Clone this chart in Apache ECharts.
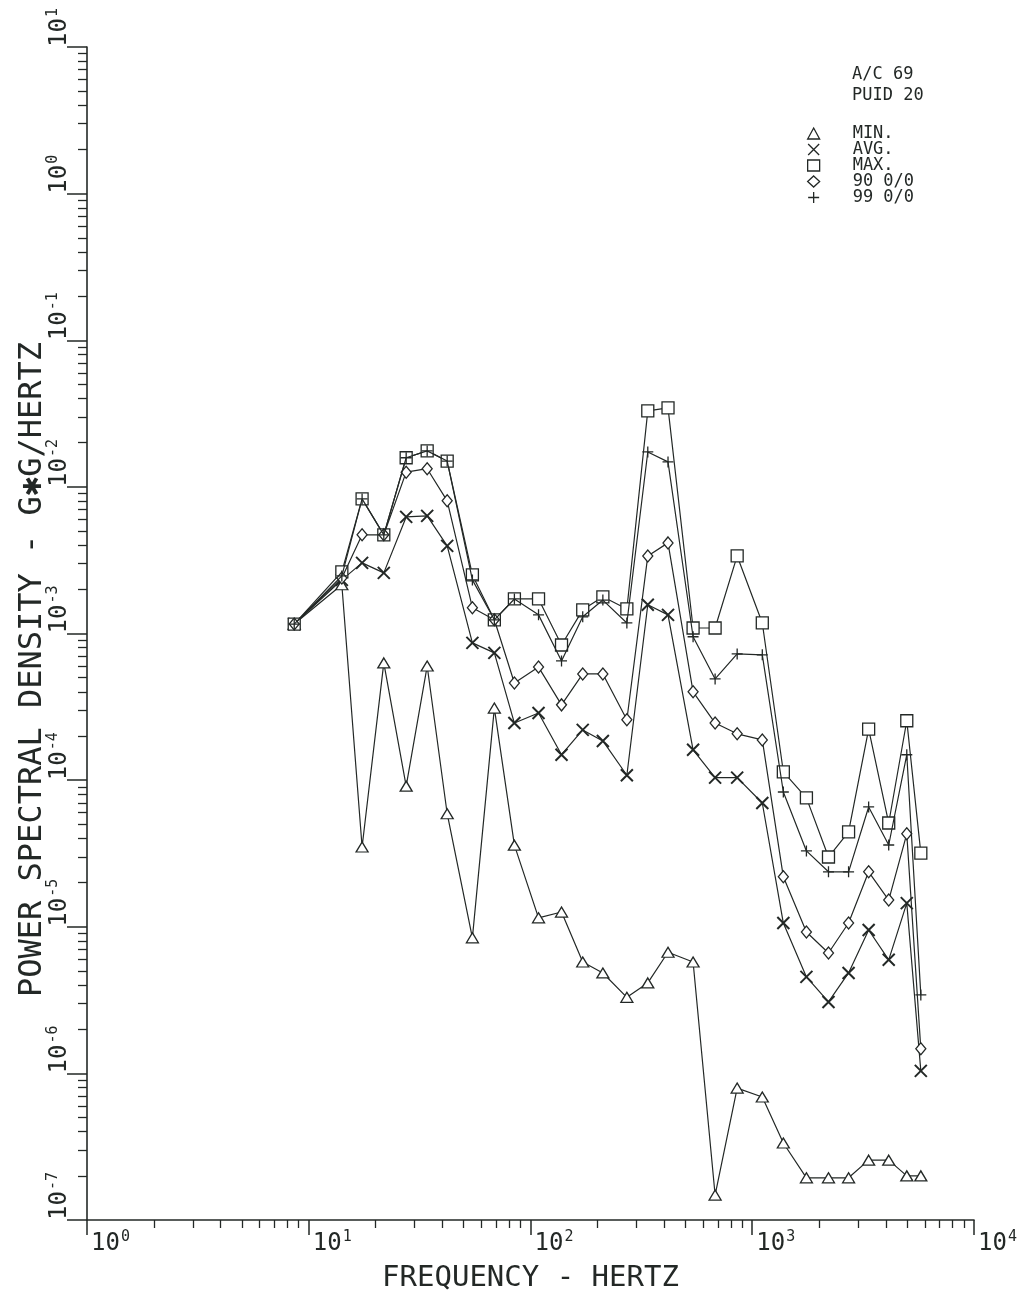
<!DOCTYPE html>
<html>
<head>
<meta charset="utf-8">
<script src="https://cdn.jsdelivr.net/npm/echarts@6/dist/echarts.min.js"></script>
<style>
  html, body { margin: 0; padding: 0; background: #ffffff; }
  #chart { width: 1023px; height: 1292px; }
</style>
</head>
<body>
<div id="chart"></div>
<script>
// Band frequencies (Hz) and power spectral density per statistic (g^2/Hz)
const frequencies = [8.6, 14.1, 17.4, 21.8, 27.5, 34.2, 42.1, 54.7, 68.7, 84.6,
  108.7, 138, 172, 212, 272, 338, 417, 541, 680, 855,
  1110, 1381, 1755, 2207, 2719, 3349, 4125, 4976, 5757];

const psdMin = [1.16e-3, 2.15e-3, 3.5e-5, 6.3e-4, 9.1e-5, 6.0e-4, 5.9e-5, 8.4e-6, 3.1e-4, 3.6e-5,
  1.15e-5, 1.26e-5, 5.75e-6, 4.84e-6, 3.3e-6, 4.14e-6, 6.7e-6, 5.75e-6, 1.48e-7, 7.94e-7,
  6.9e-7, 3.35e-7, 1.94e-7, 1.94e-7, 1.94e-7, 2.56e-7, 2.56e-7, 2.0e-7, 2.0e-7];

const psdAvg = [1.16e-3, 2.32e-3, 3.03e-3, 2.59e-3, 6.24e-3, 6.34e-3, 3.96e-3, 8.63e-4, 7.38e-4, 2.45e-4,
  2.87e-4, 1.49e-4, 2.2e-4, 1.85e-4, 1.08e-4, 1.57e-3, 1.34e-3, 1.61e-4, 1.04e-4, 1.04e-4,
  6.98e-5, 1.06e-5, 4.55e-6, 3.07e-6, 4.84e-6, 9.5e-6, 5.95e-6, 1.45e-5, 1.04e-6];

const psdMax = [1.16e-3, 2.63e-3, 8.28e-3, 4.71e-3, 1.58e-2, 1.76e-2, 1.50e-2, 2.51e-3, 1.24e-3, 1.72e-3,
  1.72e-3, 8.35e-4, 1.45e-3, 1.78e-3, 1.47e-3, 3.3e-2, 3.46e-2, 1.09e-3, 1.09e-3, 3.38e-3,
  1.18e-3, 1.14e-4, 7.57e-5, 2.99e-5, 4.44e-5, 2.23e-4, 5.1e-5, 2.54e-4, 3.18e-5];

const psd90 = [1.16e-3, 2.39e-3, 4.71e-3, 4.71e-3, 1.26e-2, 1.33e-2, 8.03e-3, 1.50e-3, 1.24e-3, 4.6e-4,
  5.9e-4, 3.26e-4, 5.3e-4, 5.3e-4, 2.58e-4, 3.38e-3, 4.15e-3, 4.0e-4, 2.45e-4, 2.07e-4,
  1.88e-4, 2.19e-5, 9.2e-6, 6.62e-6, 1.06e-5, 2.37e-5, 1.52e-5, 4.3e-5, 1.47e-6];

const psd99 = [1.16e-3, 2.47e-3, 8.28e-3, 4.71e-3, 1.58e-2, 1.76e-2, 1.50e-2, 2.32e-3, 1.24e-3, 1.72e-3,
  1.34e-3, 6.5e-4, 1.30e-3, 1.69e-3, 1.18e-3, 1.73e-2, 1.48e-2, 9.5e-4, 4.9e-4, 7.26e-4,
  7.15e-4, 8.3e-5, 3.29e-5, 2.37e-5, 2.37e-5, 6.56e-5, 3.61e-5, 1.49e-4, 3.43e-6];

// Axis decades and the in-between mantissas used for the short ticks
const xDecades = [1, 10, 100, 1000, 10000];
const yDecades = [1e-7, 1e-6, 1e-5, 1e-4, 1e-3, 1e-2, 1e-1, 1, 10];
const minorMantissas = [2, 3, 4, 5, 6, 7, 8, 9];

const seriesNames = ['MIN.', 'AVG.', 'MAX.', '90 0/0', '99 0/0'];
const headerText = ['A/C 69', 'PUID 20'];
const xTitle = 'FREQUENCY - HERTZ';
const yTitle = 'POWER SPECTRAL DENSITY - G\u2731G/HERTZ';

const INK = '#232826';
const FONT = '"DejaVu Sans Mono", "Liberation Mono", monospace';

function minorValues(decades) {
  const out = [];
  for (let i = 0; i < decades.length - 1; i++) {
    minorMantissas.forEach(m => out.push(decades[i] * m));
  }
  return out;
}

function powerLabel(v) {
  const e = Math.round(Math.log10(v));
  return '{b|10}{s|' + e + '}';
}

// "10" with a raised exponent whose top lines up with the digits
const labelRich = {
  b: { fontFamily: FONT, fontSize: 24, color: INK },
  s: { fontFamily: FONT, fontSize: 15, color: INK, padding: [0, 0, 12, 1] }
};

const symbols = {
  'MIN.': { symbol: 'triangle', size: [12, 10] },
  'AVG.': { symbol: 'path://M0,0L10,10M10,0L0,10', size: 12 },
  'MAX.': { symbol: 'rect', size: 12 },
  '90 0/0': { symbol: 'diamond', size: [10, 12] },
  '99 0/0': { symbol: 'path://M5,0L5,10M0,5L10,5', size: 11 }
};

const seriesData = [psdMin, psdAvg, psdMax, psd90, psd99];

const chart = echarts.init(document.getElementById('chart'), null, { renderer: 'canvas' });

const option = {
  animation: false,
  backgroundColor: '#ffffff',
  title: {
    text: headerText.join('\n'),
    left: 847,
    top: 59,
    textStyle: { fontFamily: FONT, fontSize: 17, fontWeight: 'normal', color: INK, lineHeight: 21 }
  },
  legend: {
    orient: 'vertical',
    left: 802,
    top: 120,
    itemWidth: 12,
    itemHeight: 11,
    itemGap: -1,
    selectedMode: false,
    itemStyle: { color: '#ffffff', borderColor: INK, borderWidth: 1.3 },
    textStyle: { fontFamily: FONT, fontSize: 17, color: INK, lineHeight: 16, height: 16, padding: [0, 0, 0, 28] },
    data: seriesNames.map(n => ({ name: n, icon: symbols[n].symbol }))
  },
  grid: { left: 87, right: 49, top: 47, bottom: 72, outerBoundsMode: 'none', containLabel: false },
  xAxis: [
    {
      type: 'log', logBase: 10, min: 1, max: 10000,
      name: xTitle, nameLocation: 'middle', nameGap: 44,
      nameTextStyle: { fontFamily: FONT, fontSize: 29, color: INK },
      axisLine: { show: true, lineStyle: { color: INK, width: 1.6 } },
      axisTick: { show: true, length: 15, customValues: xDecades, lineStyle: { color: INK, width: 1.5 } },
      axisLabel: {
        show: true, customValues: xDecades, align: 'left', margin: 10,
        formatter: powerLabel, rich: labelRich, padding: [0, 0, 0, 4]
      },
      splitLine: { show: false }
    },
    {
      type: 'log', logBase: 10, min: 1, max: 10000, position: 'bottom',
      axisLine: { show: false },
      axisTick: { show: true, length: 8, customValues: minorValues(xDecades), lineStyle: { color: INK, width: 1.3 } },
      axisLabel: { show: false },
      splitLine: { show: false }
    }
  ],
  yAxis: [
    {
      type: 'log', logBase: 10, min: 1e-7, max: 10,
      name: yTitle, nameLocation: 'middle', nameGap: 38, nameRotate: 90, nameMoveOverlap: false,
      nameTextStyle: { fontFamily: FONT, fontSize: 32, color: INK, padding: [0, 72, 0, 0] },
      axisLine: { show: true, lineStyle: { color: INK, width: 1.6 } },
      axisTick: { show: true, length: 20, customValues: yDecades, lineStyle: { color: INK, width: 1.5 } },
      axisLabel: {
        show: true, customValues: yDecades, rotate: 90, align: 'left', verticalAlign: 'bottom', margin: 14,
        formatter: powerLabel, rich: labelRich
      },
      splitLine: { show: false }
    },
    {
      type: 'log', logBase: 10, min: 1e-7, max: 10, position: 'left',
      axisLine: { show: false },
      axisTick: { show: true, length: 9, customValues: minorValues(yDecades), lineStyle: { color: INK, width: 1.3 } },
      axisLabel: { show: false },
      splitLine: { show: false }
    }
  ],
  series: seriesNames.map((name, k) => ({
    name: name,
    type: 'line',
    xAxisIndex: 0,
    yAxisIndex: 0,
    data: frequencies.map((f, i) => [f, seriesData[k][i]]),
    symbol: symbols[name].symbol,
    symbolSize: symbols[name].size,
    showSymbol: true,
    showAllSymbol: true,
    lineStyle: { color: INK, width: 1.2 },
    itemStyle: { color: '#ffffff', borderColor: INK, borderWidth: name === 'AVG.' ? 2 : 1.3 },
    emphasis: { disabled: true },
    z: 2 + k
  }))
};

chart.setOption(option);
</script>
</body>
</html>
